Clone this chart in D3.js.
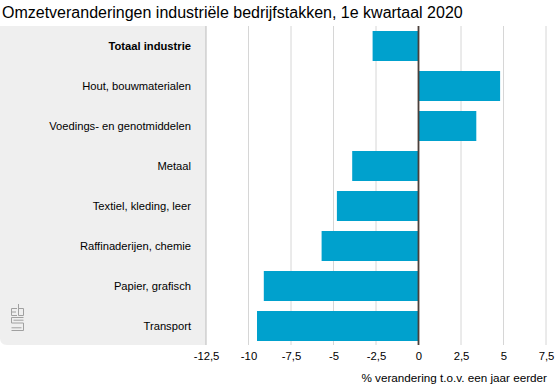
<!DOCTYPE html>
<html><head><meta charset="utf-8">
<script src="https://cdn.jsdelivr.net/npm/d3@7"></script>
<style>body{margin:0;background:#fff}svg{display:block;font-family:"Liberation Sans",Arial,Helvetica,sans-serif}</style>
</head><body>
<svg id="c" width="555" height="386"></svg>
<script>
const categories = ["Totaal industrie","Hout, bouwmaterialen","Voedings- en genotmiddelen","Metaal","Textiel, kleding, leer","Raffinaderijen, chemie","Papier, grafisch","Transport"];
const values = [-2.7, 4.8, 3.4, -3.9, -4.8, -5.7, -9.1, -9.5];
const tickValues = [-12.5,-10,-7.5,-5,-2.5,0,2.5,5,7.5];
const tickLabels = ["-12,5","-10","-7,5","-5","-2,5","0","2,5","5","7,5"];
const title = "Omzetveranderingen industriële bedrijfstakken, 1e kwartaal 2020";
const axisTitle = "% verandering t.o.v. een jaar eerder";

const svg = d3.select("#c");
const x = d3.scaleLinear().domain([-12.5,7.5]).range([206,546]);
const y = d3.scaleBand().domain(categories).range([26,346]).paddingInner(0.25).paddingOuter(0.125);

svg.append("text").attr("x",2).attr("y",18).attr("font-size",16).attr("fill","#000").text(title);

// gray panel with rounded bottom-left
const px0=0, px1=x(-12.5), py0=26, py1=345, r=7;
svg.append("path").attr("d",`M${px0},${py0}H${px1}V${py1}H${px0+r}Q${px0},${py1} ${px0},${py1-r}Z`).attr("fill","#efefef");

// gridlines
svg.append("g").selectAll("line").data(tickValues.filter(d=>d!==0)).join("line")
  .attr("x1",d=>x(d)).attr("x2",d=>x(d)).attr("y1",26).attr("y2",345)
  .attr("stroke",d=>d===-12.5?"#bbb":"#d6d6d6").attr("stroke-width",1);

// bars
svg.append("g").selectAll("rect").data(values).join("rect")
  .attr("x",d=>x(Math.min(0,d))).attr("width",d=>Math.abs(x(d)-x(0)))
  .attr("y",(d,i)=>y(categories[i])).attr("height",y.bandwidth())
  .attr("fill","#00a1cd");

// zero line
svg.append("line").attr("x1",x(0)).attr("x2",x(0)).attr("y1",26).attr("y2",345).attr("stroke","#4a3f3a").attr("stroke-width",1.8);

// category labels
svg.append("g").selectAll("text").data(categories).join("text")
  .attr("x",191).attr("y",d=>y(d)+y.bandwidth()/2).attr("dy","0.36em")
  .attr("text-anchor","end").attr("font-size",11.2).attr("fill","#000")
  .attr("font-weight",(d,i)=>i===0?"bold":"normal").text(d=>d);

// x axis
const xAxis = d3.axisBottom(x).tickValues(tickValues).tickFormat((d,i)=>tickLabels[i]).tickSize(0).tickPadding(0);
const ax = svg.append("g").attr("transform","translate(0,352)").call(xAxis);
ax.select(".domain").remove();
ax.selectAll("text").attr("font-size",11.3).attr("fill","#000").attr("font-family","Liberation Sans, Arial, sans-serif").attr("dy","0.71em");

svg.append("text").attr("x",547).attr("y",382).attr("text-anchor","end").attr("font-size",11.7).attr("fill","#000").text(axisTitle);

// cbs logo
const lg = svg.append("g").attr("fill","none").attr("stroke","#a0a0a0").attr("stroke-width",1);
lg.append("path").attr("d","M17,308.5H11.5V315.5H17 M11.5,312H16");
lg.append("path").attr("d","M18.5,304V315.5H23.5V308.5H18.5");
lg.append("path").attr("d","M23.5,317.5H11.5V323H23.5V330.5H11.5 M13.5,320.2H23.5 M11.5,327.8H21.5");
</script>
</body></html>
